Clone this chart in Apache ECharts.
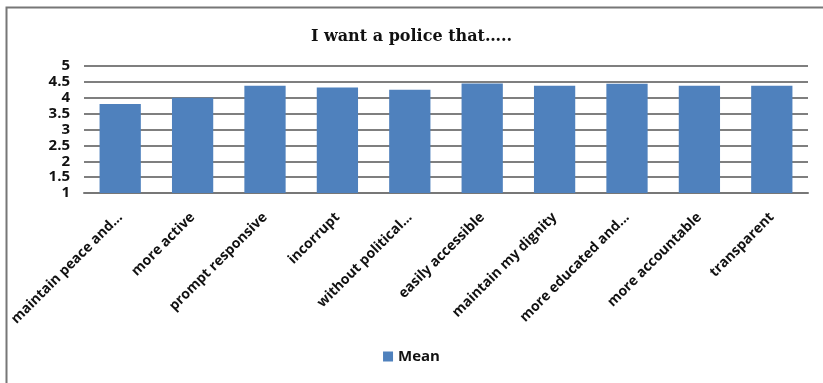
<!DOCTYPE html>
<html><head><meta charset="utf-8">
<script src="https://cdn.jsdelivr.net/npm/echarts@6/dist/echarts.min.js"></script>
<style>html,body{margin:0;padding:0;background:#fff}#c{width:823px;height:383px}</style>
</head><body><div id="c"></div>
<script>
var categories = ["maintain peace and...", "more active", "prompt responsive", "incorrupt", "without political...", "easily accessible", "maintain my dignity", "more educated and...", "more accountable", "transparent"];
var meanValues = [3.8, 4.0, 4.38, 4.32, 4.25, 4.45, 4.38, 4.44, 4.38, 4.38];
var yTicks = [1, 1.5, 2, 2.5, 3, 3.5, 4, 4.5, 5];
var seriesName = "Mean";
var titleText = "I want a police that…..";

var chart = echarts.init(document.getElementById('c'));
chart.setOption({
  animation: false,
  title: {
    text: titleText, left: 'center', top: 24,
    textStyle: {fontFamily: 'DejaVu Serif', fontWeight: 'bold', fontSize: 16, color: '#111'}
  },
  graphic: [{
    type: 'rect', shape: {x: 6.5, y: 7.5, width: 840, height: 400},
    style: {fill: 'none', stroke: '#777', lineWidth: 2}, silent: true
  }],
  legend: {
    data: [seriesName], left: 'center', bottom: 14, itemWidth: 10, itemHeight: 10, icon: 'rect',
    textStyle: {fontFamily: 'Open Sans', fontWeight: 'bold', fontSize: 15, color: '#111'}
  },
  grid: {left: 84, right: 15, top: 66, bottom: 190},
  xAxis: {
    type: 'category', data: categories,
    axisLine: {lineStyle: {color: '#777', width: 2}},
    axisTick: {show: false},
    axisLabel: {rotate: 45, interval: 0, margin: 22, fontFamily: 'Open Sans', fontWeight: 'bold', fontSize: 14, color: '#111', padding: [0, 0, 0, 0]}
  },
  yAxis: {
    type: 'value', min: 1, max: 5, interval: 0.5,
    axisLine: {show: false}, axisTick: {show: false},
    splitLine: {lineStyle: {color: '#555', width: 1.5}},
    axisLabel: {fontFamily: 'Open Sans', fontWeight: 'bold', fontSize: 15, color: '#111', margin: 14, lineHeight: 14}
  },
  series: [{
    name: seriesName, type: 'bar', data: meanValues, barCategoryGap: '43%',
    itemStyle: {color: '#4f81bd'}
  }]
});
</script></body></html>
